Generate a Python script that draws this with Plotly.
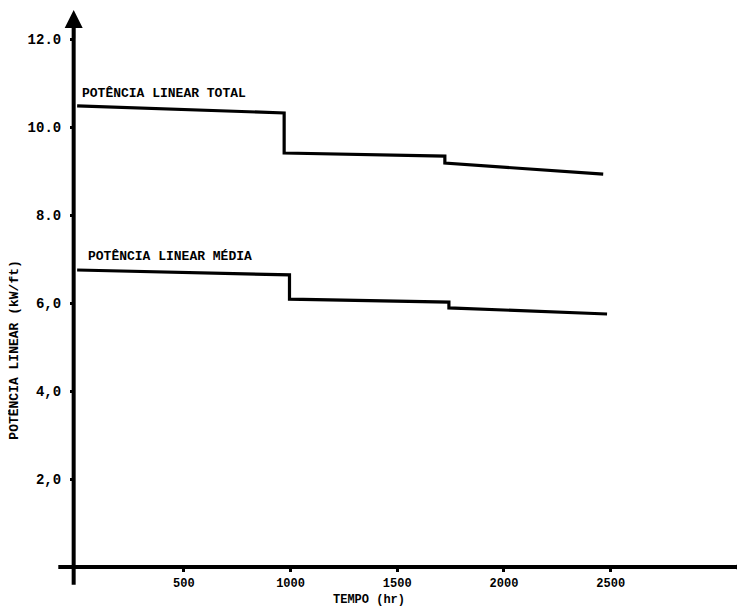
import plotly.graph_objects as go

# Data (time in hours, linear power)
tempo_total = [0, 970, 970, 1723, 1723, 2465]
potencia_total = [10.48, 10.32, 9.41, 9.34, 9.18, 8.93]

tempo_media = [0, 995, 995, 1742, 1742, 2483]
potencia_media = [6.75, 6.64, 6.09, 6.02, 5.89, 5.75]

x_ticks = [500, 1000, 1500, 2000, 2500]
x_ticklabels = ["500", "1000", "1500", "2000", "2500"]
y_ticks = [2, 4, 6, 8, 10, 12]
y_ticklabels = ["2,0", "4,0", "6,0", "8.0", "10.0", "12.0"]

FONT = "Liberation Mono"

fig = go.Figure()
fig.add_trace(go.Scatter(x=tempo_total, y=potencia_total, mode="lines",
                         line=dict(color="black", width=3.2), showlegend=False))
fig.add_trace(go.Scatter(x=tempo_media, y=potencia_media, mode="lines",
                         line=dict(color="black", width=3.2), showlegend=False))

# page body has an 8px margin, so the figure is sized 737x600
fig.update_layout(
    width=737, height=600,
    margin=dict(l=67, r=2, t=2, b=41),
    plot_bgcolor="white", paper_bgcolor="white",
    font=dict(family=FONT, color="black"),
)
fig.update_xaxes(range=[-10, 3120], showgrid=False, zeroline=False,
                 showline=False, tickvals=x_ticks, ticktext=x_ticklabels,
                 ticks="outside", ticklen=4, tickwidth=3, tickcolor="black",
                 ticklabelstandoff=1,
                 tickfont=dict(family=FONT, size=12, weight="bold", color="black"))
fig.update_yaxes(range=[0, 12.66], showgrid=False, zeroline=False,
                 showline=False, tickvals=y_ticks, ticktext=y_ticklabels,
                 ticks="outside", ticklen=4, tickwidth=3, tickcolor="black",
                 ticklabelstandoff=6,
                 tickfont=dict(family=FONT, size=14, weight="bold", color="black"))

# Axis lines (drawn as shapes so they can overhang like the original)
fig.add_shape(type="line", xref="paper", yref="paper",
              x0=-0.002, x1=-0.002, y0=-0.032, y1=0.985,
              line=dict(color="black", width=4))
fig.add_shape(type="line", xref="paper", yref="paper",
              x0=-0.025, x1=0.995, y0=0, y1=0,
              line=dict(color="black", width=4))
# arrow head on y axis
fig.add_annotation(xref="paper", yref="paper", x=-0.002, y=1.0,
                   ax=0, ay=30, showarrow=True, arrowhead=2, arrowsize=1.2,
                   arrowwidth=3, arrowcolor="black", text="")
# round end on x axis
fig.add_shape(type="circle", xref="paper", yref="paper",
              x0=0.99, x1=1.0, y0=-0.009, y1=0.009,
              fillcolor="black", line=dict(color="black", width=0))

# Curve labels
fig.add_annotation(x=15, y=10.77, xref="x", yref="y", text="POTÊNCIA LINEAR TOTAL",
                   showarrow=False, xanchor="left", yanchor="middle",
                   font=dict(family=FONT, size=13, weight="bold", color="black"))
fig.add_annotation(x=40, y=7.05, xref="x", yref="y", text="POTÊNCIA LINEAR MÉDIA",
                   showarrow=False, xanchor="left", yanchor="middle",
                   font=dict(family=FONT, size=13, weight="bold", color="black"))

# Axis titles
fig.add_annotation(x=0.44, y=-0.059, xref="paper", yref="paper", text="TEMPO (hr)",
                   showarrow=False, xanchor="center", yanchor="middle",
                   font=dict(family=FONT, size=12, weight="bold", color="black"))
fig.add_annotation(x=-0.09, y=0.39, xref="paper", yref="paper",
                   text="POTÊNCIA LINEAR (kW/ft)", textangle=-90,
                   showarrow=False, xanchor="center", yanchor="middle",
                   font=dict(family=FONT, size=13, weight="bold", color="black"))

fig.write_html("out.html")
